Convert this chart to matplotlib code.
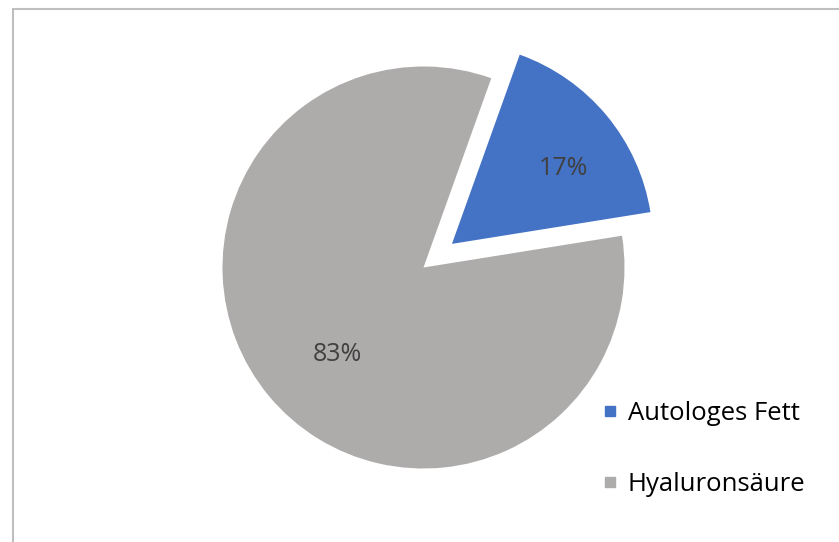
import numpy as np
import matplotlib.pyplot as plt
from matplotlib.lines import Line2D
from matplotlib.patches import Rectangle

# Anteile der Behandlungsmethoden
labels = ["Autologes Fett", "Hyaluronsäure"]
values = [17, 83]
colors = ["#4472C4", "#AEABAB"]

radius = 201
# explode wird von ax.pie in Dateneinheiten verschoben
explode = [0.184 * radius, 0]
# Lage der Prozentangaben: Abstand (Anteil des Radius), Drehung (Grad)
label_dist = [0.67, 0.61]
label_turn = [-5.5, 5.5]

plt.rcParams['font.family'] = ['Open Sans', 'DejaVu Sans']

fig = plt.figure(figsize=(8.39, 5.42), dpi=100)
ax = fig.add_axes([0, 0, 1, 1])

wedges, texts, autotexts = ax.pie(
    values, colors=colors, explode=explode, startangle=70.3,
    counterclock=False, center=(423.5, 274.5), radius=radius,
    autopct=lambda p: f"{p:.0f}%",
    textprops=dict(color="#404040", fontsize=18),
    wedgeprops=dict(linewidth=0),
)
for w, t, d, turn in zip(wedges, autotexts, label_dist, label_turn):
    mid = np.deg2rad((w.theta1 + w.theta2) / 2 + turn)
    cx, cy = w.center
    t.set_position((cx + d * w.r * np.cos(mid), cy + d * w.r * np.sin(mid)))

ax.set_xlim(0, 839)
ax.set_ylim(0, 542)
ax.set_aspect('equal')
ax.axis('off')

# Rahmen um die Diagrammfläche
fig.patches.append(Rectangle((12.5 / 839, -0.1), 1.2, (542 - 8.5) / 542 + 0.1,
                             transform=fig.transFigure, fill=False,
                             edgecolor="#BFBFBF", linewidth=1.5))

handles = [Line2D([], [], marker='s', linestyle='', markersize=7.5,
                  markerfacecolor=c, markeredgecolor=c) for c in colors]
leg = ax.legend(handles, labels, loc='upper left', frameon=False,
                bbox_to_anchor=(590 / 839, 1 - 388 / 542),
                bbox_transform=fig.transFigure,
                fontsize=18.5, handlelength=0.55, handletextpad=0.42,
                labelspacing=1.78, borderpad=0)

fig.savefig("out.png", dpi=100)
